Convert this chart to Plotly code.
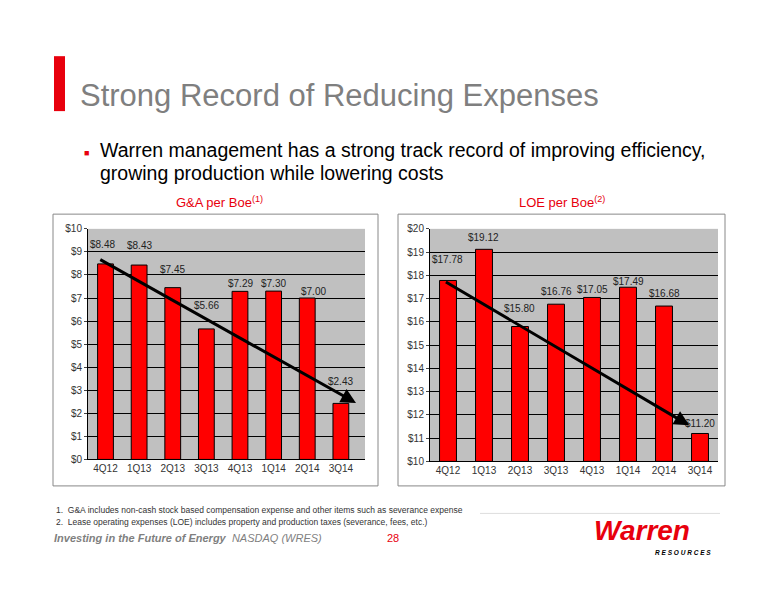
import plotly.graph_objects as go

quarters = ["4Q12","1Q13","2Q13","3Q13","4Q13","1Q14","2Q14","3Q14"]
ga = [8.48, 8.43, 7.45, 5.66, 7.29, 7.30, 7.00, 2.43]
loe = [17.78, 19.12, 15.80, 16.76, 17.05, 17.49, 16.68, 11.20]
ga_ticks = list(range(0, 11))
loe_ticks = list(range(10, 21))

W, H = 760, 584
OFF = 8
def px(x): return (x - OFF) / W
def py(y): return 1 - (y - OFF) / H

fig = go.Figure()
bar_style = dict(color="#FF0000", line=dict(color="black", width=1))
fig.add_trace(go.Bar(x=quarters, y=ga, marker=bar_style, width=0.47, xaxis="x", yaxis="y", showlegend=False))
fig.add_trace(go.Bar(x=quarters, y=[v - 10 for v in loe], base=10, marker=bar_style,
                     width=0.47, xaxis="x2", yaxis="y2", showlegend=False))

ax_common = dict(showgrid=False, linecolor="black", showline=True, ticks="",
                 tickfont=dict(family="Arial", size=10, color="#333"))
ay_common = dict(showgrid=True, gridcolor="black", gridwidth=1, linecolor="black", showline=True, ticks="outside",
                 ticklen=3, tickfont=dict(family="Arial", size=10, color="#333"), zeroline=False)
fig.update_layout(
    width=W, height=H, margin=dict(l=0, r=0, t=0, b=0), paper_bgcolor="white", plot_bgcolor="#C0C0C0",
    xaxis=dict(domain=[px(88), px(365)], anchor="y", **ax_common),
    yaxis=dict(domain=[py(463), py(228)], range=[0, 10], tickvals=ga_ticks,
               ticktext=[f"${t}" for t in ga_ticks], anchor="x", **ay_common),
    xaxis2=dict(domain=[px(430), px(718)], anchor="y2", **ax_common),
    yaxis2=dict(domain=[py(465), py(228)], range=[10, 20], tickvals=loe_ticks,
                ticktext=[f"${t}" for t in loe_ticks], anchor="x2", **ay_common),
)

ga_shift = [21, 22, 20, 25, 10, 10, 9, 24]
ga_xs = [-3, 0, 0, 0, 0, 0, 6, 0]
loe_shift = [23, 14, 20, 15, 10, 8, 15, 12]
ann = []
for i, v in enumerate(ga):
    ann.append(dict(x=i, y=v, xref="x", yref="y", text=f"${v:.2f}", showarrow=False, yshift=ga_shift[i] - 2,
                    xshift=ga_xs[i], font=dict(family="Arial", size=10, color="#222")))
for i, v in enumerate(loe):
    ann.append(dict(x=i, y=v, xref="x2", yref="y2", text=f"${v:.2f}", showarrow=False, yshift=loe_shift[i] - 2,
                    font=dict(family="Arial", size=10, color="#222")))
ann.append(dict(x=7.45, y=2.45, ax=-0.2, ay=8.7, xref="x", yref="y", axref="x", ayref="y", showarrow=True,
                arrowhead=2, arrowsize=1, arrowwidth=3, arrowcolor="black", text=""))
ann.append(dict(x=6.7, y=11.55, ax=-0.1, ay=17.75, xref="x2", yref="y2", axref="x2", ayref="y2", showarrow=True,
                arrowhead=2, arrowsize=1, arrowwidth=3, arrowcolor="black", text=""))
txt = [
    (px(78), py(92), "Strong Record of Reducing Expenses", 31, "#7F7F7F", "left"),
    (px(98), py(148), "Warren management has a strong track record of improving efficiency,", 19.5, "black", "left"),
    (px(98), py(171), "growing production while lowering costs", 19.5, "black", "left"),
    (px(220), py(201), "G&A per Boe<sup>(1)</sup>", 13, "#E8000D", "center"),
    (px(562), py(201), "LOE per Boe<sup>(2)</sup>", 13, "#E8000D", "center"),
    (px(54), py(515), "1.  G&A includes non-cash stock based compensation expense and other items such as severance expense", 8.5, "#333", "left"),
    (px(54), py(527), "2.  Lease operating expenses (LOE) includes property and production taxes (severance, fees, etc.)", 8.5, "#333", "left"),
    (px(52), py(543), "<b><i>Investing in the Future of Energy</i></b>  <i>NASDAQ (WRES)</i>", 11, "#7F7F7F", "left"),
    (px(393), py(543), "28", 11, "#E8000D", "center"),
    (px(642), py(535), "<b><i>Warren</i></b>", 28, "#E8000D", "center"),
    (px(683), py(558), "<b><i>R E S O U R C E S</i></b>", 6.5, "black", "center"),
]
for x, y, t, s, c, a in txt:
    ann.append(dict(x=x, y=y, xref="paper", yref="paper", text=t, showarrow=False, xanchor=a, yanchor="middle",
                    font=dict(family="Arial", size=s, color=c)))
ann.append(dict(x=px(82), y=py(144), xref="paper", yref="paper", text="■", showarrow=False,
                font=dict(family="Arial", size=9, color="#E8000D")))
fig.update_layout(annotations=ann)

shapes = [
    dict(type="rect", xref="paper", yref="paper", x0=px(54), x1=px(65), y0=py(108), y1=py(52), fillcolor="#E8000D", line=dict(width=0)),
    dict(type="rect", xref="paper", yref="paper", x0=px(53), x1=px(378), y0=py(490), y1=py(213), line=dict(color="#888", width=1)),
    dict(type="rect", xref="paper", yref="paper", x0=px(398), x1=px(725), y0=py(490), y1=py(213), line=dict(color="#888", width=1)),
    dict(type="line", xref="paper", yref="paper", x0=px(480), x1=px(720), y0=py(518), y1=py(518), line=dict(color="#DDD", width=1)),
]
fig.update_layout(shapes=shapes)
fig.write_html("out.html")
